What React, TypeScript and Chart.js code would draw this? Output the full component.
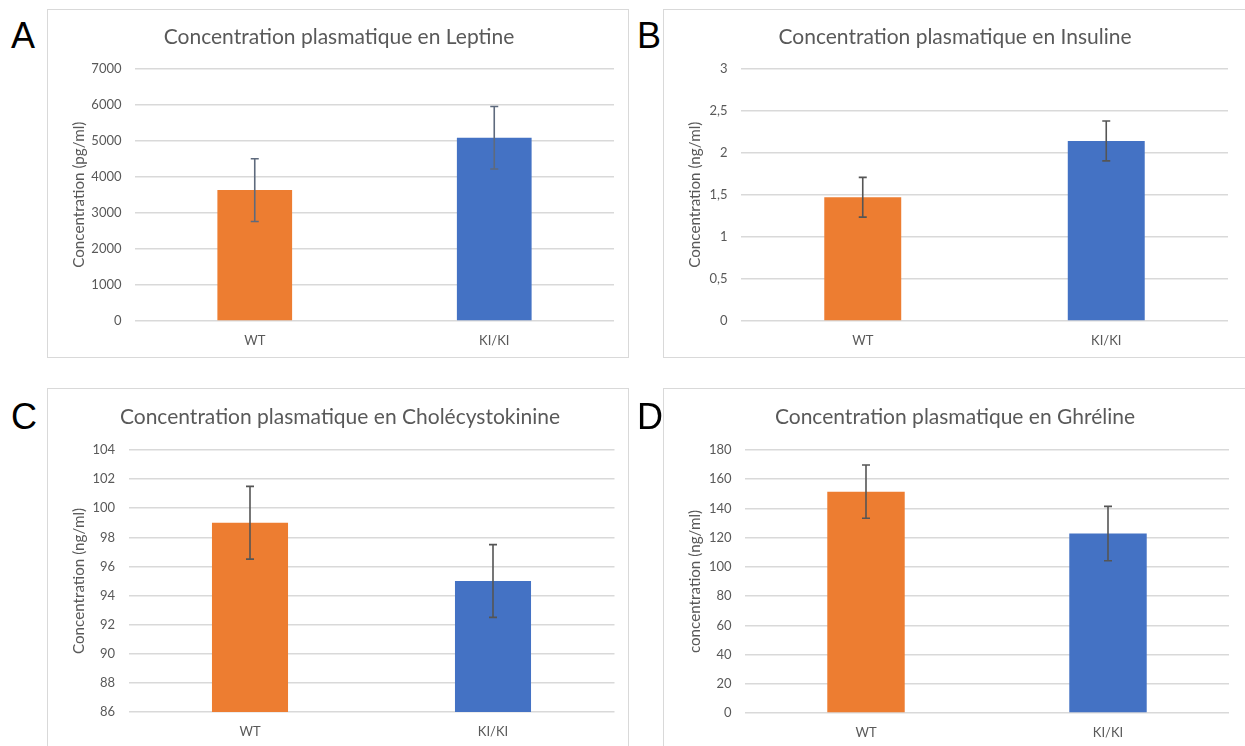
import React, { useEffect, useRef } from 'react';
import { Chart, registerables } from 'chart.js';

Chart.register(...registerables);

// ---------- data ----------
const categories = ['WT', 'KI/KI'];
const barColors = ['#ED7D31', '#4472C4'];

const leptinValues = [3630, 5080];
const leptinErrors = [870, 865];
const leptinTicks = { min: 0, max: 7000, step: 1000 };

const insulinValues = [1.47, 2.14];
const insulinErrors = [0.236, 0.237];
const insulinTicks = { min: 0, max: 3, step: 0.5 };

const cckValues = [99.0, 95.0];
const cckErrors = [2.5, 2.5];
const cckTicks = { min: 86, max: 104, step: 2 };

const ghrelinValues = [151.5, 122.8];
const ghrelinErrors = [18.2, 18.6];
const ghrelinTicks = { min: 0, max: 180, step: 20 };

const titles = [
  'Concentration plasmatique en Leptine',
  'Concentration plasmatique en Insuline',
  'Concentration plasmatique en Cholécystokinine',
  'Concentration plasmatique en Ghréline',
];
const yTitles = [
  'Concentration (pg/ml)',
  'Concentration (ng/ml)',
  'Concentration (ng/ml)',
  'concentration (ng/ml)',
];
const letters = ['A', 'B', 'C', 'D'];

// ---------- styling / layout ----------
const FONT = 'Lato, "Open Sans", sans-serif';
const TEXT = '#595959';
const GRID = '#D9D9D9';
const VW = 1245;
const VH = 746;
const X_AXIS_H = 30;
const Y_TITLE_SIZE = 15.2;

type Panel = {
  values: number[];
  errors: number[];
  ticks: { min: number; max: number; step: number };
  comma: boolean;
  box: { x: number; y: number; w: number; h: number };
  plot: { l: number; r: number; t: number; b: number };
  titleC: { x: number; y: number };
  yTitleX: number;
  letterPos: { x: number; y: number };
  barPct: number;
  errColor: string;
};

const panels: Panel[] = [
  {
    values: leptinValues, errors: leptinErrors, ticks: leptinTicks, comma: false,
    box: { x: 47, y: 9, w: 582, h: 349 },
    plot: { l: 135, r: 614, t: 68.5, b: 321 },
    titleC: { x: 339, y: 36 }, yTitleX: 79, letterPos: { x: 11, y: 47 },
    barPct: 0.312, errColor: '#5E6A7D',
  },
  {
    values: insulinValues, errors: insulinErrors, ticks: insulinTicks, comma: true,
    box: { x: 663, y: 9, w: 600, h: 349 },
    plot: { l: 741, r: 1228, t: 68.5, b: 321 },
    titleC: { x: 955, y: 36 }, yTitleX: 695, letterPos: { x: 637, y: 47 },
    barPct: 0.316, errColor: '#555555',
  },
  {
    values: cckValues, errors: cckErrors, ticks: cckTicks, comma: false,
    box: { x: 47, y: 388, w: 582, h: 380 },
    plot: { l: 128.5, r: 614.5, t: 450, b: 712 },
    titleC: { x: 340, y: 416 }, yTitleX: 79, letterPos: { x: 11, y: 428 },
    barPct: 0.313, errColor: '#555555',
  },
  {
    values: ghrelinValues, errors: ghrelinErrors, ticks: ghrelinTicks, comma: false,
    box: { x: 663, y: 388, w: 600, h: 380 },
    plot: { l: 745, r: 1229, t: 450, b: 713 },
    titleC: { x: 955, y: 416 }, yTitleX: 695, letterPos: { x: 637, y: 428 },
    barPct: 0.32, errColor: '#555555',
  },
];

const errorBarPlugin = {
  id: 'errorBars',
  afterDatasetsDraw(chart: any, _args: any, opts: any) {
    const errs: number[] = opts.errors;
    if (!errs) return;
    const meta = chart.getDatasetMeta(0);
    const yScale = chart.scales.y;
    const ctx = chart.ctx;
    const cap = opts.cap || 4;
    ctx.save();
    ctx.strokeStyle = opts.color;
    ctx.lineWidth = opts.width || 1.5;
    meta.data.forEach((bar: any, i: number) => {
      const v = chart.data.datasets[0].data[i] as number;
      const top = yScale.getPixelForValue(v + errs[i]);
      const bot = yScale.getPixelForValue(v - errs[i]);
      const x = bar.x;
      ctx.beginPath();
      ctx.moveTo(x, top);
      ctx.lineTo(x, bot);
      ctx.moveTo(x - cap, top);
      ctx.lineTo(x + cap, top);
      ctx.moveTo(x - cap, bot);
      ctx.lineTo(x + cap, bot);
      ctx.stroke();
    });
    ctx.restore();
  },
};

function ChartPanel({ p, idx }: { p: Panel; idx: number }) {
  const ref = useRef<HTMLCanvasElement>(null);
  const cw = Math.min(p.box.w, VW - p.box.x);
  const ch = Math.min(p.box.h, VH - p.box.y);

  useEffect(() => {
    if (!ref.current) return;
    const yAxisW = p.plot.l - p.box.x;
    const padTop = p.plot.t - p.box.y;
    const padRight = p.box.x + cw - p.plot.r;
    const padBottom = p.box.y + ch - p.plot.b - X_AXIS_H;
    const titleCenter = p.yTitleX - p.box.x;
    const titleLH = Y_TITLE_SIZE * 1.2;

    const chart = new Chart(ref.current, {
      type: 'bar',
      data: {
        labels: categories,
        datasets: [
          {
            data: p.values,
            backgroundColor: barColors,
            borderWidth: 0,
            barPercentage: p.barPct,
            categoryPercentage: 1,
          },
        ],
      },
      options: {
        animation: false,
        responsive: false,
        maintainAspectRatio: false,
        layout: { padding: { top: padTop, right: padRight, bottom: padBottom, left: 0 } },
        plugins: {
          legend: { display: false },
          tooltip: { enabled: false },
          title: { display: false },
          errorBars: { errors: p.errors, color: p.errColor, width: 1.6, cap: 4 },
        } as any,
        scales: {
          x: {
            grid: { display: false },
            border: { display: false },
            ticks: { color: TEXT, font: { family: FONT, size: 13 }, padding: 4 },
            afterFit: (s: any) => {
              s.height = X_AXIS_H;
            },
          },
          y: {
            min: p.ticks.min,
            max: p.ticks.max,
            grid: { color: GRID, lineWidth: 1.5, drawTicks: false },
            border: { display: false },
            ticks: {
              stepSize: p.ticks.step,
              color: TEXT,
              font: { family: FONT, size: 13 },
              padding: 13.5,
              callback: (v: any) => (p.comma ? String(v).replace('.', ',') : String(v)),
            },
            title: {
              display: true,
              text: yTitles[idx],
              color: TEXT,
              font: { family: FONT, size: Y_TITLE_SIZE },
              padding: { top: titleCenter - titleLH / 2, bottom: 0 },
            },
            afterFit: (s: any) => {
              s.width = yAxisW;
            },
          },
        },
      },
      plugins: [errorBarPlugin],
    } as any);
    return () => chart.destroy();
  }, []);

  return (
    <>
      <div
        style={{
          position: 'absolute',
          left: p.box.x,
          top: p.box.y,
          width: p.box.w - 2,
          height: p.box.h - 2,
          border: '1px solid #D9D9D9',
          background: '#fff',
        }}
      />
      <canvas
        ref={ref}
        width={cw}
        height={ch}
        style={{ position: 'absolute', left: p.box.x, top: p.box.y, width: cw, height: ch }}
      />
      <div
        style={{
          position: 'absolute',
          left: p.titleC.x,
          top: p.titleC.y,
          transform: 'translate(-50%, -50%)',
          whiteSpace: 'nowrap',
          fontFamily: FONT,
          fontSize: 21,
          color: TEXT,
          lineHeight: '26px',
        }}
      >
        {titles[idx]}
      </div>
      <div
        style={{
          position: 'absolute',
          left: p.letterPos.x,
          top: p.letterPos.y - 29,
          fontFamily: '"Liberation Sans", Arial, sans-serif',
          fontSize: 36,
          lineHeight: '36px',
          color: '#000',
        }}
      >
        {letters[idx]}
      </div>
    </>
  );
}

export default function App() {
  return (
    <div
      style={{
        position: 'absolute',
        left: 0,
        top: 0,
        width: VW,
        height: VH,
        overflow: 'hidden',
        background: '#fff',
      }}
    >
      {panels.map((p, i) => (
        <ChartPanel key={i} p={p} idx={i} />
      ))}
    </div>
  );
}
